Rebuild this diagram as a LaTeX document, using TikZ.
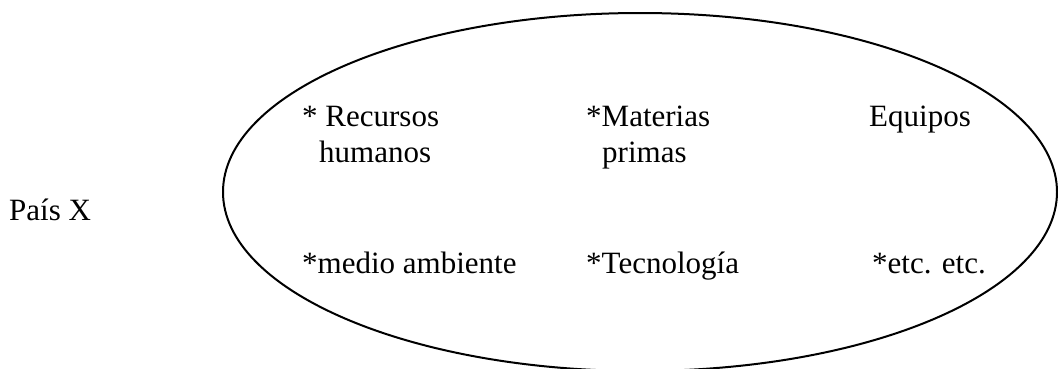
\documentclass[tikz,border=0pt]{standalone}
\usepackage{fontspec}
\usetikzlibrary{shapes.geometric}
\setmainfont{Liberation Serif}
\begin{document}
\begin{tikzpicture}[x=1pt,y=-1pt,
  lbl/.style={anchor=base west,inner sep=0pt,font=\fontsize{31}{36}\selectfont},
  rim/.style={draw=black,line width=2pt}]
\useasboundingbox (0,0) rectangle (1058,368);
\clip (0,0) rectangle (1058,368);
\fill[white] (0,0) rectangle (1058,368);
\node[rim,ellipse,minimum width=834pt,minimum height=358pt,inner sep=0pt] (pool) at (640,192) {};
\node[lbl] (pais) at (9,220) {País X};
\node[lbl] (recursos) at (302,126) {\begin{tabular}[t]{@{}l@{}}* Recursos\\\hspace{17pt}humanos\end{tabular}};
\node[lbl] (materias) at (586,126) {\begin{tabular}[t]{@{}l@{}}*Materias\\\hspace{16pt}primas\end{tabular}};
\node[lbl] (equipos) at (869,126) {Equipos};
\node[lbl] (medio) at (302,273) {*medio ambiente};
\node[lbl] (tecno) at (586,273) {*Tecnología};
\node[lbl] (etc) at (872,273) {*etc. etc.};
\end{tikzpicture}
\end{document}
